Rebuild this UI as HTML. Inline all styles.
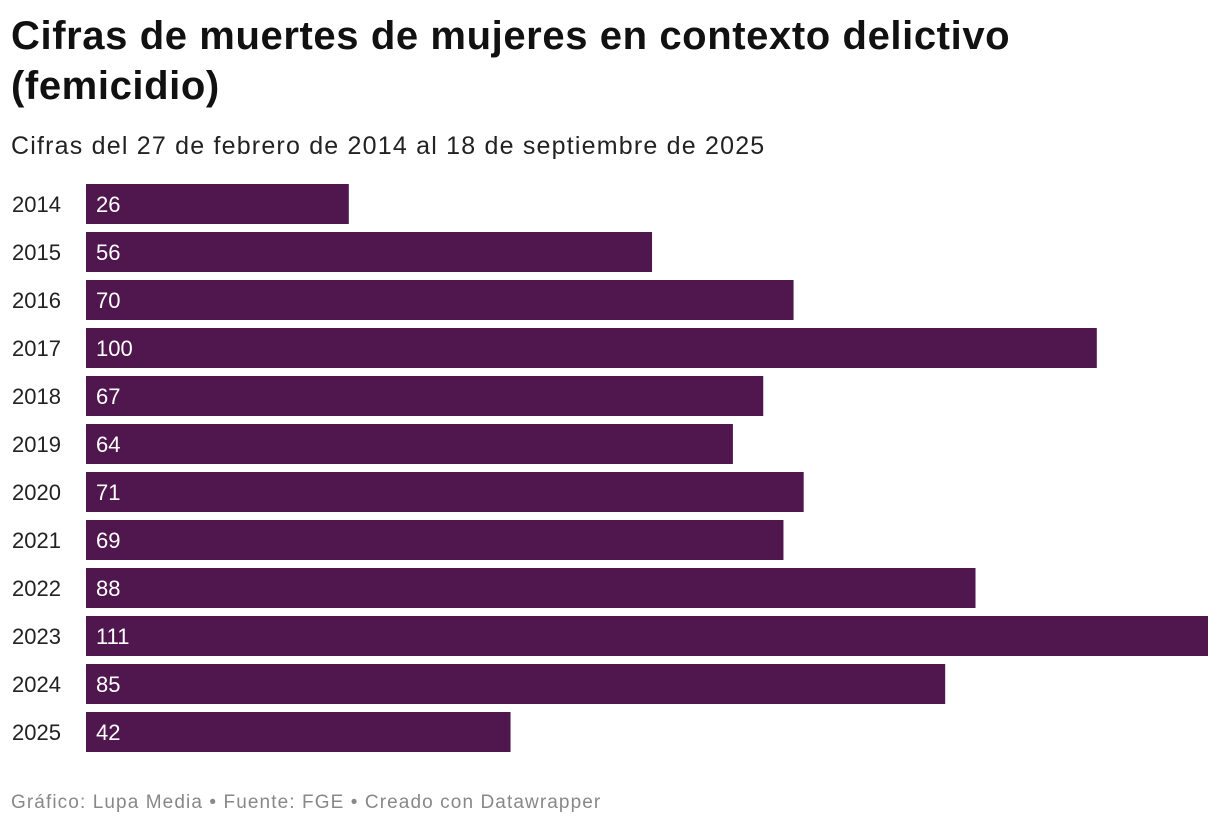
<!DOCTYPE html>
<html><head><meta charset="utf-8"><style>
body{margin:0;width:1220px;height:828px;background:#fff;font-family:"Liberation Sans",sans-serif;overflow:hidden;position:relative}
#title{position:absolute;left:11px;top:11px;font-size:40px;font-weight:bold;line-height:50px;color:#111;margin:0;letter-spacing:0.6px}
#sub{position:absolute;left:11px;top:132px;font-size:25px;color:#222;letter-spacing:1.2px}
#foot{position:absolute;left:11px;top:792px;font-size:19px;color:#888;letter-spacing:1.1px}
</style></head><body>
<h1 id="title">Cifras de muertes de mujeres en contexto delictivo<br>(femicidio)</h1>
<div id="sub">Cifras del 27 de febrero de 2014 al 18 de septiembre de 2025</div>
<svg id="chart" width="1220" height="828" style="position:absolute;left:0;top:0"></svg>
<div id="foot">Gráfico: Lupa Media • Fuente: FGE • Creado con Datawrapper</div>
<script>
const categories=["2014","2015","2016","2017","2018","2019","2020","2021","2022","2023","2024","2025"];
const values=[26,56,70,100,67,64,71,69,88,111,85,42];
const maxValue=111;
const svg=document.getElementById('chart');
const NS='http://www.w3.org/2000/svg';
const x0=86,x1=1208,top0=184,pitch=48,bh=40;
function xScale(v){return x0+(v/maxValue)*(x1-x0);}
function yScale(i){return top0+i*pitch;}
categories.forEach((c,i)=>{
  const y=yScale(i);
  const r=document.createElementNS(NS,'rect');
  r.setAttribute('x',x0);r.setAttribute('y',y);
  r.setAttribute('width',xScale(values[i])-x0);r.setAttribute('height',bh);
  r.setAttribute('fill','#4f174d');
  
  
  svg.appendChild(r);
  const l=document.createElementNS(NS,'text');
  l.setAttribute('x',12);l.setAttribute('y',y+28);
  l.setAttribute('font-size','22');l.setAttribute('fill','#222');
  l.textContent=c;
  
  
  svg.appendChild(l);
  const v=document.createElementNS(NS,'text');
  v.setAttribute('x',96);v.setAttribute('y',y+28);
  v.setAttribute('font-size','22');v.setAttribute('fill','#fff');
  v.textContent=values[i];
  
  
  svg.appendChild(v);
});
</script>
</body></html>
